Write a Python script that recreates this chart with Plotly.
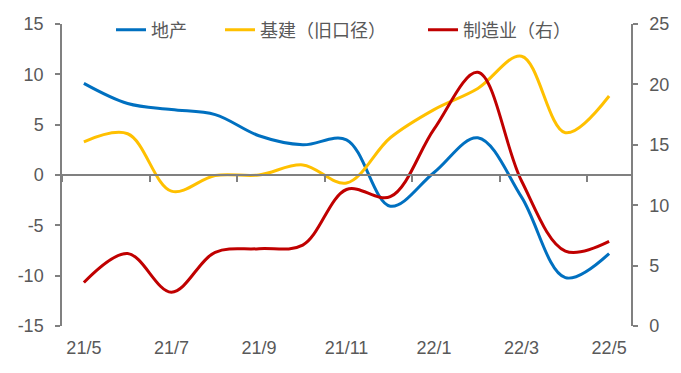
import plotly.graph_objects as go

months = ["21/5", "21/6", "21/7", "21/8", "21/9", "21/10", "21/11", "21/12",
          "22/1", "22/2", "22/3", "22/4", "22/5"]
tick_labels = ["21/5", "21/7", "21/9", "21/11", "22/1", "22/3", "22/5"]
left_ticks = [-15, -10, -5, 0, 5, 10, 15]
right_ticks = [0, 5, 10, 15, 20, 25]

real_estate = [9.1, 7.1, 6.5, 6.0, 3.9, 3.0, 3.5, -3.1, 0.25, 3.7, -2.2, -10.2, -7.8]
infra = [3.3, 4.1, -1.6, -0.05, 0.0, 1.0, -0.8, 3.7, 6.5, 8.6, 11.8, 4.2, 7.85]
manufacturing = [3.6, 6.0, 2.8, 6.1, 6.4, 6.7, 11.3, 10.7, 16.3, 21.0, 12.0, 6.2, 7.0]

names = ["地产", "基建（旧口径）", "制造业（右）"]
colors = ["#0070C0", "#FFC000", "#C00000"]

x = list(range(len(months)))
FONT = "Liberation Sans, Arial, Noto Sans CJK SC, sans-serif"
GRAY = "#595959"
AX = "#808080"

fig = go.Figure()
fig.add_trace(go.Scatter(x=x, y=real_estate, name=names[0], mode="lines",
                         line=dict(color=colors[0], width=3, shape="spline", smoothing=1),
                         legend="legend"))
fig.add_trace(go.Scatter(x=x, y=infra, name=names[1], mode="lines",
                         line=dict(color=colors[1], width=3, shape="spline", smoothing=1),
                         legend="legend2"))
fig.add_trace(go.Scatter(x=x, y=manufacturing, name=names[2], mode="lines",
                         line=dict(color=colors[2], width=3, shape="spline", smoothing=1),
                         yaxis="y2", legend="legend3"))
# helper trace to anchor the zero-line axis with tick marks
fig.add_trace(go.Scatter(x=[0], y=[0], xaxis="x2", yaxis="y", mode="markers",
                         marker=dict(opacity=0), showlegend=False, hoverinfo="skip"))

tick_pos = [i * 2 for i in range(len(tick_labels))]
boundaries = [i * 2 - 0.5 for i in range(len(tick_labels))]

leg_common = dict(orientation="h", yanchor="middle", y=0.977, xanchor="left",
                  bgcolor="rgba(0,0,0,0)", font=dict(family="Noto Sans CJK SC", size=18, color=GRAY))

fig.update_layout(
    width=681, height=373,
    margin=dict(l=62, r=50, t=23, b=47),
    paper_bgcolor="white", plot_bgcolor="white",
    font=dict(family=FONT, size=18, color=GRAY),
    showlegend=True,
    legend=dict(**leg_common, x=(111 - 62) / 569),
    legend2=dict(**leg_common, x=(220 - 62) / 569),
    legend3=dict(**leg_common, x=(423 - 62) / 569),
    xaxis=dict(range=[-0.5, 12.5], tickvals=tick_pos, ticktext=tick_labels,
               showline=False, ticks="", showgrid=False, zeroline=False,
               ticklabelstandoff=9, tickfont=dict(family=FONT, size=18, color=GRAY)),
    xaxis2=dict(range=[-0.5, 12.5], overlaying="x", anchor="free", position=0.5,
                side="bottom", tickvals=boundaries, showticklabels=False,
                ticks="outside", ticklen=6, tickwidth=1.5, tickcolor=AX,
                showline=True, linecolor=AX, linewidth=1.5, showgrid=False, zeroline=False),
    yaxis=dict(range=[-15, 15], tickvals=left_ticks, ticktext=[str(v) for v in left_ticks],
               showline=True, linecolor=AX, linewidth=1.5,
               ticks="outside", ticklen=5, tickwidth=1.5, tickcolor=AX,
               showgrid=False, zeroline=False, ticklabelstandoff=8,
               tickfont=dict(family=FONT, size=18, color=GRAY)),
    yaxis2=dict(range=[0, 25], tickvals=right_ticks, ticktext=[str(v) for v in right_ticks],
                overlaying="y", side="right", showline=True,
                linecolor=AX, linewidth=1.5, ticks="outside", ticklen=5, tickwidth=1.5,
                tickcolor=AX, showgrid=False, zeroline=False, ticklabelstandoff=8,
                tickfont=dict(family=FONT, size=18, color=GRAY)),
)

fig.write_html("out.html", config={"displayModeBar": False},
               post_script="document.body.style.margin='0';")
